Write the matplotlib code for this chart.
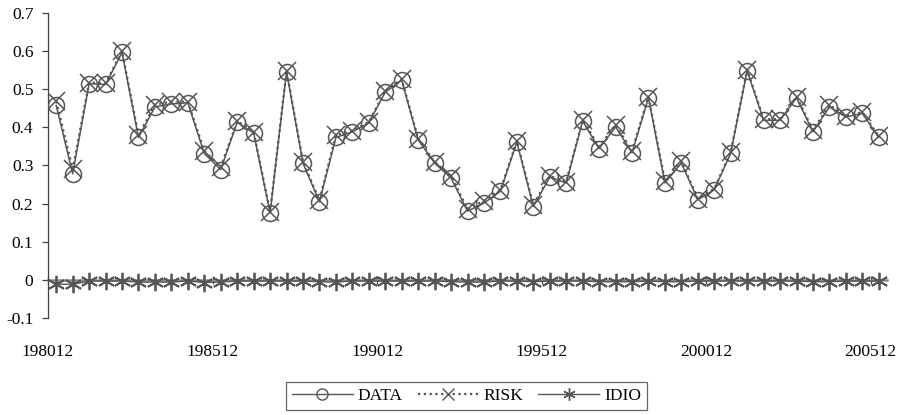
import matplotlib
matplotlib.use("Agg")
import matplotlib.pyplot as plt
from matplotlib.lines import Line2D

# ---------------- data ----------------
years = list(range(1980, 2006))
categories = []
for y in years:
    if y == 1980:
        categories.append(f"{y}12")
    else:
        categories.append(f"{y}06")
        categories.append(f"{y}12")

data = [0.457, 0.278, 0.514, 0.512, 0.596, 0.373, 0.453, 0.461, 0.464, 0.331,
        0.289, 0.413, 0.385, 0.175, 0.545, 0.306, 0.204, 0.373, 0.388, 0.411,
        0.492, 0.523, 0.367, 0.306, 0.267, 0.180, 0.201, 0.232, 0.361, 0.192,
        0.269, 0.254, 0.416, 0.344, 0.401, 0.333, 0.477, 0.254, 0.306, 0.210,
        0.236, 0.332, 0.548, 0.418, 0.418, 0.477, 0.388, 0.453, 0.427, 0.436,
        0.373]

risk = [0.468, 0.290, 0.517, 0.515, 0.599, 0.379, 0.459, 0.467, 0.467, 0.338,
        0.295, 0.416, 0.388, 0.178, 0.548, 0.309, 0.209, 0.379, 0.391, 0.414,
        0.495, 0.526, 0.370, 0.309, 0.272, 0.186, 0.207, 0.235, 0.364, 0.197,
        0.272, 0.257, 0.419, 0.349, 0.406, 0.338, 0.480, 0.259, 0.311, 0.213,
        0.239, 0.335, 0.551, 0.421, 0.421, 0.480, 0.393, 0.458, 0.430, 0.439,
        0.376]

idio = [-0.011, -0.012, -0.003, -0.003, -0.003, -0.006, -0.006, -0.006, -0.003, -0.007,
        -0.006, -0.003, -0.003, -0.003, -0.003, -0.003, -0.005, -0.006, -0.003, -0.003,
        -0.003, -0.003, -0.003, -0.003, -0.005, -0.006, -0.006, -0.003, -0.003, -0.005,
        -0.003, -0.003, -0.003, -0.005, -0.005, -0.005, -0.003, -0.005, -0.005, -0.003,
        -0.003, -0.003, -0.003, -0.003, -0.003, -0.003, -0.005, -0.005, -0.003, -0.003,
        -0.003]

xtick_labels = ["198012", "198512", "199012", "199512", "200012", "200512"]
ytick_values = [-0.1, 0, 0.1, 0.2, 0.3, 0.4, 0.5, 0.6, 0.7]
ytick_labels = ["-0.1", "0", "0.1", "0.2", "0.3", "0.4", "0.5", "0.6", "0.7"]

# ---------------- style ----------------
plt.rcParams['font.family'] = ['Liberation Serif', 'DejaVu Serif']
FS = 12.5
LC = '#555555'

W, H = 911, 415
fig = plt.figure(figsize=(W / 100, H / 100), dpi=100)
ax = fig.add_axes([48 / W, 1 - 318 / H, (887 - 48) / W, (318 - 12.7) / H])

x = list(range(len(categories)))

ax.plot(x, data, color=LC, lw=1.1, marker='o', ms=11.5, mfc='none', mec=LC, mew=1.1,
        label='DATA', zorder=3)
ax.plot(x, risk, color=LC, lw=1.6, ls=(0, (1, 1.6)), marker='x', ms=12.5, mec=LC, mew=1.1,
        label='RISK', zorder=4)
ax.plot(x, idio, color=LC, lw=1.0, marker=(6, 2, 0), ms=12.5, mec=LC, mew=1.3,
        label='IDIO', zorder=4)

ax.set_xlim(-0.5, len(categories) - 0.5)
ax.set_ylim(-0.1, 0.7)

# y axis
ax.set_yticks(ytick_values)
ax.set_yticklabels(ytick_labels, fontsize=FS)
ax.tick_params(axis='y', direction='out', length=4.5, width=0.9, color='#404040', pad=6)
ax.spines['left'].set_color('#404040')
ax.spines['left'].set_linewidth(0.9)
ax.spines['top'].set_visible(False)
ax.spines['right'].set_visible(False)

# x axis crossing at 0
tick_pos = [i * 10 - 0.5 for i in range(len(xtick_labels))]
ax.spines['bottom'].set_position(('data', 0))
ax.spines['bottom'].set_color('#8a8a8a')
ax.spines['bottom'].set_linewidth(1.8)
ax.spines['bottom'].set_zorder(2)
ax.set_xticks(tick_pos)
ax.set_xticklabels([''] * len(tick_pos))
ax.tick_params(axis='x', direction='inout', length=6, width=0.9, color='#404040')

sec = ax.secondary_xaxis('bottom')
sec.set_xticks(tick_pos)
sec.set_xticklabels(xtick_labels, fontsize=FS)
sec.tick_params(axis='x', length=0, pad=19)
sec.spines['bottom'].set_visible(False)

# legend
handles = [
    Line2D([], [], color=LC, lw=1.0, marker='o', ms=8, mfc='none', mec=LC),
    Line2D([], [], color=LC, lw=1.6, ls=(0, (1, 1.6)), marker='x', ms=9, mec=LC),
    Line2D([], [], color=LC, lw=1.0, marker=(6, 2, 0), ms=9, mec=LC),
]
leg = fig.legend(handles, ['DATA', 'RISK', 'IDIO'], loc='center',
                 bbox_to_anchor=(466.5 / W, 1 - 396 / H), ncol=3, fontsize=FS,
                 frameon=True, fancybox=False, edgecolor='#404040',
                 handlelength=3.5, handletextpad=0.3, columnspacing=0.85,
                 borderpad=0.35, borderaxespad=0)
leg.get_frame().set_linewidth(0.9)

fig.savefig('out.png', dpi=100)
